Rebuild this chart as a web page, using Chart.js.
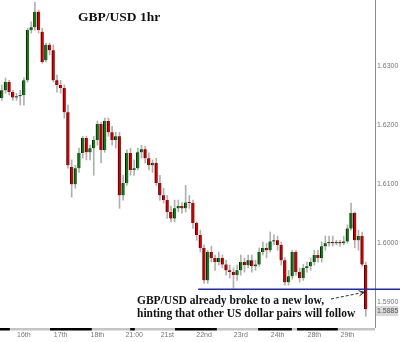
<!DOCTYPE html>
<html><head><meta charset="utf-8">
<script src="https://cdn.jsdelivr.net/npm/chart.js@4"></script>
<style>html,body{margin:0;padding:0;background:#fff}#wrap{width:400px;height:342px;position:relative}</style>
</head><body><div id="wrap"><canvas id="c"></canvas></div>
<script>
const openP = [1.6246,1.6259,1.6273,1.6256,1.6247,1.6249,1.6251,1.6276,1.6361,1.6366,
1.6392,1.6358,1.6310,1.6336,1.6327,1.6276,1.6268,1.6263,1.6222,1.6129,
1.6100,1.6127,1.6153,1.6178,1.6154,1.6161,1.6175,1.6202,1.6158,1.6207,
1.6188,1.6175,1.6181,1.6081,1.6102,1.6153,1.6124,1.6127,1.6154,1.6159,
1.6144,1.6132,1.6136,1.6102,1.6081,1.6073,1.6053,1.6042,1.6059,1.6063,
1.6059,1.6069,1.6068,1.6034,1.6014,1.5992,1.5937,1.5985,1.5975,1.5968,
1.5975,1.5964,1.5954,1.5951,1.5946,1.5954,1.5968,1.5963,1.5971,1.5961,
1.5964,1.5985,1.5992,1.5988,1.6003,1.6005,1.5997,1.5971,1.5934,1.5944,
1.5985,1.5951,1.5941,1.5958,1.5961,1.5968,1.5980,1.5975,1.5995,1.6000,
1.6002,1.6000,1.6002,1.6000,1.6003,1.6025,1.6051,1.6005,1.6012,1.5963];
const highP = [1.6268,1.6280,1.6276,1.6259,1.6254,1.6259,1.6280,1.6364,1.6375,1.6408,
1.6395,1.6364,1.6339,1.6339,1.6336,1.6285,1.6276,1.6268,1.6234,1.6141,
1.6132,1.6161,1.6181,1.6181,1.6166,1.6181,1.6207,1.6205,1.6212,1.6212,
1.6198,1.6188,1.6188,1.6115,1.6158,1.6161,1.6141,1.6161,1.6166,1.6164,
1.6153,1.6141,1.6144,1.6115,1.6093,1.6081,1.6063,1.6073,1.6073,1.6069,
1.6098,1.6081,1.6073,1.6036,1.6022,1.5997,1.5988,1.5995,1.5980,1.5985,
1.5980,1.5971,1.5963,1.5958,1.5963,1.5980,1.5975,1.5980,1.5980,1.5971,
1.5992,1.6002,1.6000,1.6019,1.6014,1.6012,1.6002,1.5975,1.5954,1.5988,
1.5988,1.5958,1.5964,1.5968,1.5975,1.5988,1.5988,1.6002,1.6012,1.6012,
1.6012,1.6005,1.6005,1.6012,1.6031,1.6068,1.6053,1.6022,1.6019,1.5968];
const lowP = [1.6242,1.6254,1.6251,1.6242,1.6242,1.6234,1.6234,1.6273,1.6356,1.6361,
1.6356,1.6305,1.6307,1.6319,1.6273,1.6256,1.6254,1.6212,1.6127,1.6078,
1.6093,1.6120,1.6144,1.6141,1.6141,1.6115,1.6166,1.6136,1.6154,1.6181,
1.6166,1.6161,1.6059,1.6073,1.6098,1.6115,1.6115,1.6124,1.6144,1.6136,
1.6124,1.6120,1.6098,1.6073,1.6068,1.6042,1.6036,1.6036,1.6053,1.6051,
1.6053,1.6059,1.6025,1.6005,1.5985,1.5932,1.5932,1.5968,1.5954,1.5963,
1.5958,1.5946,1.5941,1.5924,1.5937,1.5946,1.5951,1.5958,1.5951,1.5954,
1.5961,1.5980,1.5975,1.5985,1.5997,1.5988,1.5963,1.5929,1.5929,1.5939,
1.5946,1.5934,1.5937,1.5951,1.5954,1.5963,1.5968,1.5968,1.5988,1.5995,
1.5995,1.5997,1.5995,1.5997,1.6000,1.6022,1.5992,1.5988,1.5961,1.5876];
const closeP = [1.6259,1.6273,1.6256,1.6247,1.6249,1.6251,1.6276,1.6361,1.6366,1.6392,
1.6361,1.6307,1.6336,1.6327,1.6276,1.6268,1.6263,1.6222,1.6132,1.6100,
1.6127,1.6153,1.6178,1.6154,1.6161,1.6175,1.6202,1.6158,1.6207,1.6188,
1.6175,1.6181,1.6081,1.6102,1.6153,1.6124,1.6127,1.6154,1.6159,1.6144,
1.6132,1.6136,1.6102,1.6081,1.6073,1.6053,1.6042,1.6059,1.6063,1.6059,
1.6069,1.6068,1.6034,1.6014,1.5992,1.5937,1.5985,1.5975,1.5968,1.5975,
1.5964,1.5954,1.5951,1.5946,1.5954,1.5968,1.5963,1.5971,1.5961,1.5964,
1.5985,1.5992,1.5988,1.6003,1.6005,1.5997,1.5971,1.5934,1.5944,1.5985,
1.5951,1.5941,1.5958,1.5961,1.5968,1.5980,1.5975,1.5995,1.6000,1.6002,
1.6000,1.6002,1.6000,1.6003,1.6025,1.6051,1.6005,1.6012,1.5964,1.5888];

const slotCount = 102;
const dayNames = ['16th','17th','18th','21:00','21st','22nd','23rd','24th','28th','29th'];
const dayIdx = [6,16,26,36,45,55,65,75,85,94];
const sessionBounds = [-0.5,2.2,13.1,24.5,34.9,36.2,47.1,58.5,69.7,78.9,80.3,91.4,101.5];
const priceTicks = [1.59,1.60,1.61,1.62,1.63];
const yMin = 1.5858, yMax = 1.6412;
const supportLevel = 1.5922;
const supportStartIdx = 53.4;
const lastPrice = 1.5885;
const titleText = 'GBP/USD 1hr';
const noteLines = ['GBP/USD already broke to a new low,', 'hinting that other US dollar pairs will follow'];

const labels = [];
for (let i = 0; i < slotCount; i++) {
  const k = dayIdx.indexOf(i);
  labels.push(k >= 0 ? dayNames[k] : '');
}
const bodyData = openP.map((o, i) => [o, closeP[i]]);
const wickData = lowP.map((l, i) => [l, highP[i]]);
const bodyColors = openP.map((o, i) => closeP[i] >= o ? '#137a13' : '#d00000');

const overlay = {
  id: 'overlay',
  afterDraw(chart) {
    const ctx = chart.ctx, xs = chart.scales.x, ys = chart.scales.y, ca = chart.chartArea;
    ctx.save();
    for (let k = 0; k < sessionBounds.length - 1; k++) {
      const x0 = Math.max(ca.left, xs.getPixelForValue(sessionBounds[k]));
      const x1 = Math.min(ca.right, xs.getPixelForValue(sessionBounds[k + 1]));
      ctx.fillStyle = k % 2 === 0 ? '#000' : '#c4c4c4';
      ctx.fillRect(x0, ca.bottom + 1, x1 - x0, 2.5);
    }
    const sy = ys.getPixelForValue(supportLevel);
    ctx.strokeStyle = '#1d2bb5';
    ctx.lineWidth = 1.6;
    ctx.beginPath();
    ctx.moveTo(xs.getPixelForValue(supportStartIdx), sy);
    ctx.lineTo(chart.width, sy);
    ctx.stroke();
    const py = ys.getPixelForValue(lastPrice);
    ctx.fillStyle = '#d8d8d8';
    ctx.fillRect(ca.right + 1, py - 5, 22, 10);
    ctx.fillStyle = '#555';
    ctx.font = '7px "Liberation Sans", Arial, sans-serif';
    ctx.textBaseline = 'middle';
    ctx.textAlign = 'left';
    ctx.fillText(lastPrice.toFixed(4), ca.right + 2, py);
    ctx.fillStyle = '#111';
    ctx.font = 'bold 13.5px "Liberation Serif", "Times New Roman", serif';
    ctx.fillText(titleText, 78, 18);
    ctx.font = 'bold 11.5px "Liberation Serif", "Times New Roman", serif';
    ctx.fillText(noteLines[0], 137, 301);
    ctx.fillText(noteLines[1], 137, 314);
    const ax1 = xs.getPixelForValue(98.6), ay1 = sy + 3;
    const ax0 = 331, ay0 = 299;
    ctx.strokeStyle = '#111';
    ctx.lineWidth = 0.9;
    ctx.setLineDash([3, 2]);
    ctx.beginPath();
    ctx.moveTo(ax0, ay0);
    ctx.lineTo(ax1, ay1);
    ctx.stroke();
    ctx.setLineDash([]);
    const ang = Math.atan2(ay1 - ay0, ax1 - ax0);
    ctx.beginPath();
    ctx.moveTo(ax1 - 6 * Math.cos(ang - 0.45), ay1 - 6 * Math.sin(ang - 0.45));
    ctx.lineTo(ax1, ay1);
    ctx.lineTo(ax1 - 6 * Math.cos(ang + 0.45), ay1 - 6 * Math.sin(ang + 0.45));
    ctx.stroke();
    ctx.restore();
  }
};

new Chart(document.getElementById('c'), {
  type: 'bar',
  data: {
    labels: labels,
    datasets: [
      { label: 'body', data: bodyData, backgroundColor: bodyColors, borderColor: '#111',
        borderWidth: { left: 1, right: 0, top: 0, bottom: 0 }, borderSkipped: false,
        barThickness: 3, minBarLength: 1, grouped: false },
      { label: 'wick', data: wickData, backgroundColor: '#b0b0b0', borderWidth: 0,
        barThickness: 1, grouped: false }
    ]
  },
  options: {
    responsive: true, maintainAspectRatio: false, animation: false,
    layout: { padding: 0 },
    plugins: { legend: { display: false }, tooltip: { enabled: false } },
    scales: {
      x: {
        type: 'category', offset: true,
        grid: { display: false, drawTicks: false },
        border: { display: false },
        ticks: { autoSkip: false, maxRotation: 0, minRotation: 0, padding: 4,
          font: { size: 7, family: '"Liberation Sans", Arial, sans-serif' }, color: '#777' },
        afterFit: s => { s.height = 15; s.paddingLeft = 0; s.paddingRight = 0; }
      },
      y: {
        position: 'right', min: yMin, max: yMax,
        grid: { display: false, drawTicks: false },
        border: { display: true, color: '#8a8a8a', width: 1 },
        afterBuildTicks: s => { s.ticks = priceTicks.map(v => ({ value: v })); },
        ticks: { padding: 2, callback: v => Number(v).toFixed(4),
          font: { size: 7, family: '"Liberation Sans", Arial, sans-serif' }, color: '#777' },
        afterFit: s => { s.width = 25; s.paddingTop = 0; s.paddingBottom = 0; }
      }
    }
  },
  plugins: [overlay]
});
</script>
</body></html>
